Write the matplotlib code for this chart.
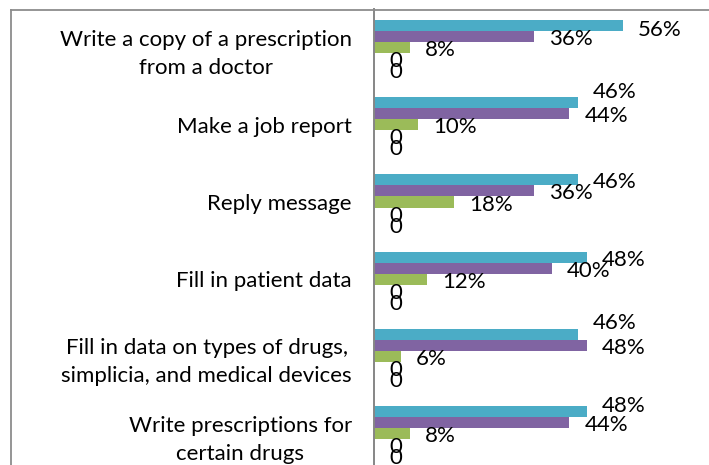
import numpy as np
import matplotlib
matplotlib.use("Agg")
import matplotlib.pyplot as plt
from matplotlib.lines import Line2D

plt.rcParams['font.family'] = ['Lato', 'DejaVu Sans']

categories = [
    "Write a copy of a prescription\nfrom a doctor",
    "Make a job report",
    "Reply message",
    "Fill in patient data",
    "Fill in data on types of drugs,\nsimplicia, and medical devices",
    "Write prescriptions for\ncertain drugs",
]
series_cyan = [56, 46, 46, 48, 46, 48]
series_purple = [36, 44, 36, 40, 48, 44]
series_green = [8, 10, 18, 12, 6, 8]
series_four = [0, 0, 0, 0, 0, 0]
series_five = [0, 0, 0, 0, 0, 0]

series = [series_cyan, series_purple, series_green, series_four, series_five]
colors = ['#4BACC6', '#8064A2', '#9BBB59', '#C0504D', '#F79646']
# label moves (pixels, + is down) that Excel made to dodge overlaps
cyan_nudge = [2, -13, 0, 0, -14, -8]

W, H = 709, 465
fig = plt.figure(figsize=(W / 100, H / 100), dpi=100)

# plot area in pixels
left_px, top_px, pitch = 374, 9, 77.2
bottom_px = top_px + 6 * pitch
ax = fig.add_axes([left_px / W, 1 - bottom_px / H, 1 - left_px / W, (bottom_px - top_px) / H])

h = 1 / 7
y = np.arange(len(categories))
px_per_unit = 4.44
ax.set_xlim(0, (W - left_px) / px_per_unit)
ax.set_ylim(len(categories) - 0.5, -0.5)

for k, vals in enumerate(series):
    ypos = y + (k - 2) * h
    ax.barh(ypos, vals, height=h, color=colors[k], edgecolor='none')
    for i, v in enumerate(vals):
        dy = 2.5 + (cyan_nudge[i] if k == 0 else 0)
        txt = "0" if v == 0 else f"{v}%"
        ax.annotate(txt, (v, ypos[i]), xytext=(15 * 0.72, -dy * 0.72),
                    textcoords='offset points', ha='left', va='center',
                    fontsize=16, color='black')

ax.set_yticks(y)
ax.set_yticklabels(categories, fontsize=16, multialignment='center', linespacing=1.5)
ax.tick_params(axis='y', length=0, pad=22 * 0.72)
ax.set_xticks([])
for s in ['top', 'right', 'bottom']:
    ax.spines[s].set_visible(False)
ax.spines['left'].set_color('#868686')
ax.spines['left'].set_linewidth(1.4)

# outer chart border
fig.add_artist(Line2D([10.5 / W, 10.5 / W], [0, 1 - 10.5 / H], transform=fig.transFigure,
                      color='#8c8c8c', lw=1.3))
fig.add_artist(Line2D([10.5 / W, 1], [1 - 10.5 / H, 1 - 10.5 / H], transform=fig.transFigure,
                      color='#8c8c8c', lw=1.3))

plt.savefig('out.png', dpi=100)
